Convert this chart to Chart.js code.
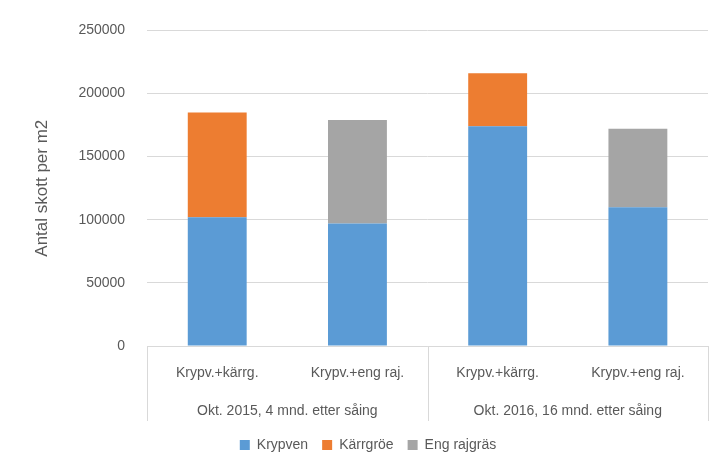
<!DOCTYPE html><html><head><meta charset="utf-8"><script src="https://cdn.jsdelivr.net/npm/chart.js@4"></script>
<style>body{margin:0;background:#fff}#w{width:728px;height:474px}</style></head><body><div id="w"><canvas id="c"></canvas></div>
<script>
const categories=["Krypv.+kärrg.","Krypv.+eng raj.","Krypv.+kärrg.","Krypv.+eng raj."];
const groups=["Okt. 2015, 4 mnd. etter såing","Okt. 2016, 16 mnd. etter såing"];
const krypven=[102000,97000,174000,110000];
const karrgroe=[83000,0,42000,0];
const engRajgras=[0,82000,0,62000];
const yTicks=[0,50000,100000,150000,200000,250000];
const font="'Liberation Sans', Arial, sans-serif";
const catAxis={id:'catAxis',afterDraw(ch){
 const c=ch.ctx,a=ch.chartArea,x=ch.scales.x;
 c.save();c.strokeStyle='#d9d9d9';c.lineWidth=1;
 const y0=a.bottom;
 c.beginPath();c.moveTo(a.left,y0+0.5);c.lineTo(a.right,y0+0.5);
 [a.left,(a.left+a.right)/2,a.right].forEach(px=>{c.moveTo(Math.round(px)+0.5,y0);c.lineTo(Math.round(px)+0.5,y0+75);});
 c.stroke();
 c.fillStyle='#595959';c.font='14px '+font;c.textAlign='center';c.textBaseline='middle';
 categories.forEach((t,i)=>c.fillText(t,x.getPixelForValue(i),y0+27));
 groups.forEach((g,i)=>c.fillText(g,(x.getPixelForValue(2*i)+x.getPixelForValue(2*i+1))/2,y0+65));
 c.restore();}};
new Chart(document.getElementById('c'),{type:'bar',
 data:{labels:categories,datasets:[
  {label:'Krypven',data:krypven,backgroundColor:'#5b9bd5'},
  {label:'Kärrgröe',data:karrgroe,backgroundColor:'#ed7d31'},
  {label:'Eng rajgräs',data:engRajgras,backgroundColor:'#a5a5a5'}]},
 options:{animation:false,responsive:true,maintainAspectRatio:false,
  layout:{padding:{top:0,right:20,bottom:12,left:28}},
  datasets:{bar:{categoryPercentage:1,barPercentage:0.42}},
  plugins:{tooltip:{enabled:false},legend:{position:'bottom',labels:{boxWidth:10,boxHeight:10,padding:14,color:'#595959',font:{family:font,size:14}}}},
  scales:{
   x:{stacked:true,grid:{display:false},border:{display:false},ticks:{display:false},afterFit(s){s.height=78;}},
   y:{stacked:true,min:0,max:250000,afterBuildTicks(s){s.ticks=yTicks.map(v=>({value:v}));},
    grid:{color:'#d9d9d9',drawTicks:false},border:{display:false},
    ticks:{padding:22,color:'#595959',font:{family:font,size:14},callback:v=>String(v)},
    title:{display:true,text:'Antal skott per m2',color:'#595959',font:{family:font,size:17}}}}},
 plugins:[catAxis]});
</script></body></html>
